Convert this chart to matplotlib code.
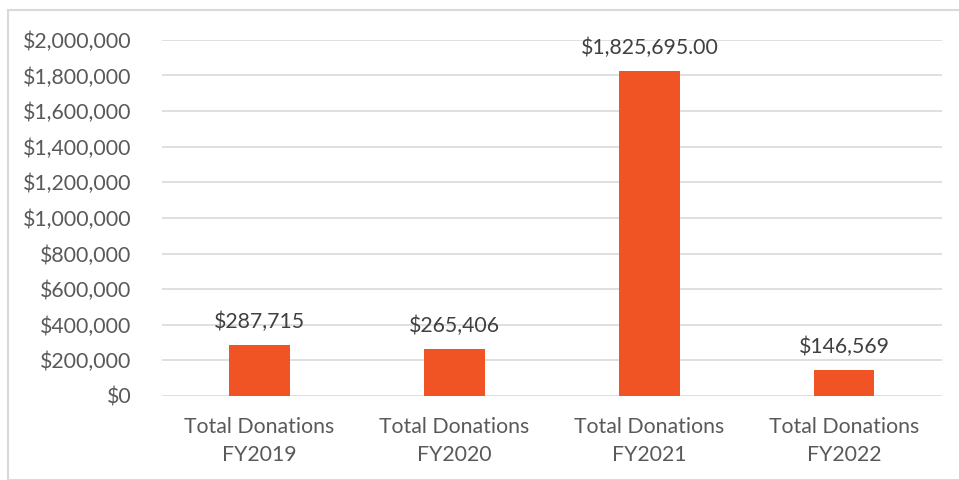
import matplotlib.pyplot as plt
from matplotlib.patches import Rectangle
from matplotlib.ticker import FuncFormatter

plt.rcParams['font.family'] = ['Lato', 'DejaVu Sans']

# Data
categories = ['Total Donations\nFY2019', 'Total Donations\nFY2020',
              'Total Donations\nFY2021', 'Total Donations\nFY2022']
donations = [287715, 265406, 1825695.00, 146569]
value_labels = ['$287,715', '$265,406', '$1,825,695.00', '$146,569']

bar_color = '#F05324'
text_color = '#595959'
grid_color = '#D9D9D9'

fig = plt.figure(figsize=(9.59, 4.8), dpi=100)
ax = fig.add_axes([0.169, 0.175, 0.813, 0.742])

x = range(len(categories))
bars = ax.bar(x, donations, width=0.31, color=bar_color, zorder=3)

for b, lab in zip(bars, value_labels):
    ax.annotate(lab, (b.get_x() + b.get_width() / 2, b.get_height()),
                xytext=(0, 9), textcoords='offset points',
                ha='center', va='bottom', fontsize=15.3, color='#404040')

ax.set_xlim(-0.5, 3.5)
ax.set_ylim(0, 2000000)
ax.set_yticks(range(0, 2000001, 200000))
ax.yaxis.set_major_formatter(FuncFormatter(lambda v, p: '${:,.0f}'.format(v)))
ax.set_xticks(list(x))
ax.set_xticklabels(categories, linespacing=1.5)

ax.grid(axis='y', color=grid_color, linewidth=1.2, zorder=0)
for s in ax.spines.values():
    s.set_visible(False)
ax.tick_params(length=0, labelsize=15.3, colors=text_color)
ax.tick_params(axis='y', pad=22)
ax.tick_params(axis='x', pad=15)

# chart border
fig.patches.append(Rectangle((8 / 959, 0), 1, 1 - 10 / 480, transform=fig.transFigure,
                             fill=False, edgecolor=grid_color, linewidth=1.5))

fig.savefig('out.png', dpi=100)
